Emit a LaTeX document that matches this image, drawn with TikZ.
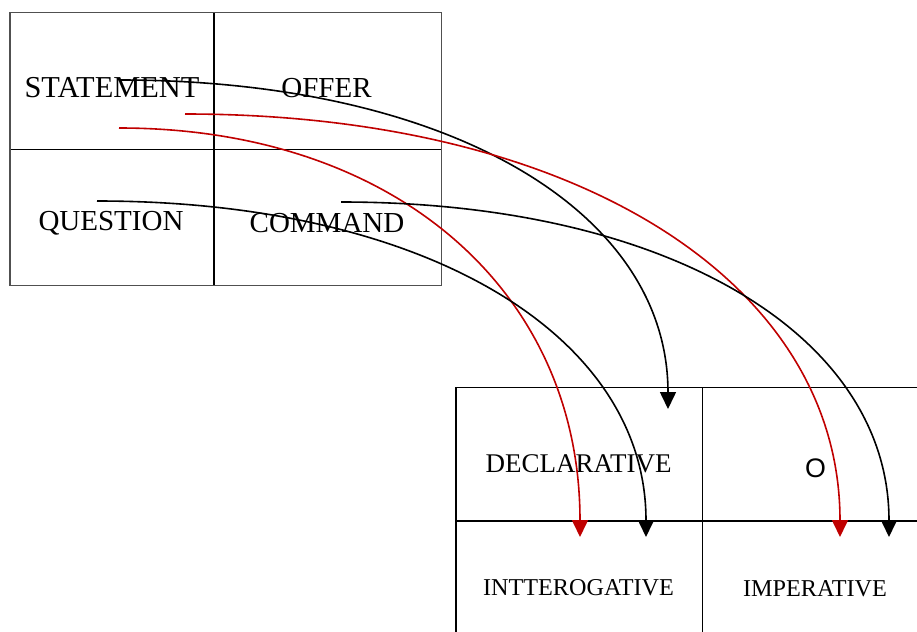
\documentclass[tikz,border=0pt]{standalone}
\usepackage{fontspec}
\setmainfont{Liberation Serif}
\newfontfamily\labelsans{Liberation Sans}
\usetikzlibrary{arrows.meta}
\definecolor{linkred}{RGB}{192,0,0}
\definecolor{framegray}{RGB}{80,80,80}
\tikzset{
  gridline/.style={line width=0.55pt, black},
  outerframe/.style={line width=0.55pt, framegray},
  bigterm/.style={inner sep=0pt, anchor=base, font=\fontsize{14.5}{17}\selectfont},
  widerterm/.style={bigterm, font=\fontsize{15.2}{18}\selectfont},
  midterm/.style={inner sep=0pt, anchor=base, font=\fontsize{13.5}{16}\selectfont},
  smallterm/.style={inner sep=0pt, anchor=base, font=\fontsize{12.1}{14}\selectfont},
  sansterm/.style={inner sep=0pt, anchor=base, font=\labelsans\fontsize{13.4}{16}\selectfont},
  link/.style={line width=0.8pt, -{Triangle[width=8pt,length=8.5pt]}},
  blacklink/.style={link, black},
  redlink/.style={link, linkred},
}
\begin{document}
\begin{tikzpicture}[x=0.5pt, y=-0.5pt]
  \clip (0,0) rectangle (917,632);
  \fill[white] (0,0) rectangle (917,632);

  % speech functions table
  \draw[gridline] (214,12.7) -- (214,285.7);
  \draw[gridline] (10,149.3) -- (441.7,149.3);
  \draw[outerframe] (10,12.7) rectangle (441.7,285.7);

  \node[widerterm] (statement) at (112,97) {STATEMENT};
  \node[bigterm] (offer)     at (326.5,97) {OFFER};
  \node[bigterm] (question)  at (111,230) {QUESTION};
  \node[bigterm] (command)   at (327,232) {COMMAND};

  % mood table
  \draw[gridline] (456,387.5) rectangle (960,700);
  \draw[gridline] (702.5,387.5) -- (702.5,700);
  \draw[gridline] (456,521) -- (960,521);

  \node[midterm]   (declarative)   at (578.5,472) {DECLARATIVE};
  \node[sansterm]  (empty)         at (815.5,477) {O};
  \node[smallterm] (interrogative) at (578.5,595) {INTTEROGATIVE};
  \node[smallterm] (imperative)    at (815,596) {IMPERATIVE};

  % connector ends
  \coordinate (stmtA) at (120,80);
  \coordinate (stmtB) at (185,114);
  \coordinate (stmtC) at (119,128);
  \coordinate (quesD) at (97,201);
  \coordinate (commE) at (341,202);
  \coordinate (declIn)   at (668,409);
  \coordinate (interRed) at (580,537);
  \coordinate (interBlk) at (646,537);
  \coordinate (imperRed) at (840,537);
  \coordinate (imperBlk) at (889,537);

  % realisations
  \draw[blacklink] (stmtA) .. controls (448.8,80) and (668,211) .. (declIn);
  \draw[redlink]   (stmtB) .. controls (578,114) and (840,283.2) .. (imperRed);
  \draw[redlink]   (stmtC) .. controls (395.6,128) and (580,291.6) .. (interRed);
  \draw[blacklink] (quesD) .. controls (426.4,201) and (646,335.4) .. (interBlk);
  \draw[blacklink] (commE) .. controls (669.8,202) and (889,336) .. (imperBlk);
\end{tikzpicture}
\end{document}
